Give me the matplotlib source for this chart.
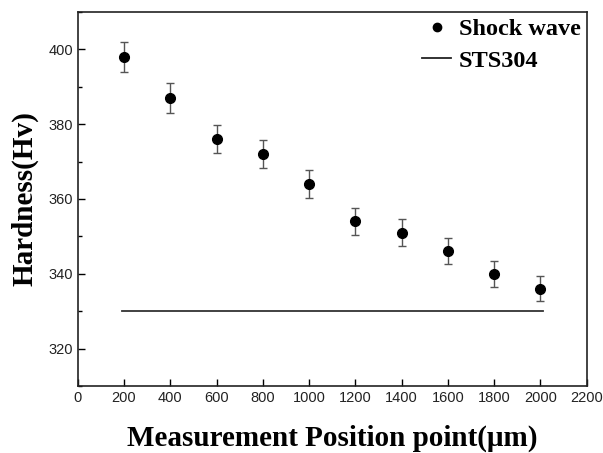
import matplotlib
matplotlib.use("Agg")
import matplotlib.pyplot as plt
from matplotlib.ticker import MultipleLocator
from matplotlib.lines import Line2D

positions = [200, 400, 600, 800, 1000, 1200, 1400, 1600, 1800, 2000]
hardness = [398, 387, 376, 372, 364, 354, 351, 346, 340, 336]
errors = [4.0, 3.9, 3.7, 3.7, 3.7, 3.6, 3.6, 3.5, 3.5, 3.4]
sts_x = [190, 2010]
sts_y = [330, 330]

fig = plt.figure(figsize=(6.03, 4.53), dpi=100)
ax = fig.add_axes([0.129, 0.148, 0.844, 0.8255])

ax.errorbar(positions, hardness, yerr=errors, fmt='o', color='black',
            ecolor='#555555', elinewidth=1.0, capsize=2.8, capthick=1.0,
            markersize=7)
ax.plot(sts_x, sts_y, color='#333333', linewidth=1.3)

ax.set_xlim(0, 2200)
ax.set_ylim(310, 410)
ax.xaxis.set_major_locator(MultipleLocator(200))
ax.yaxis.set_major_locator(MultipleLocator(20))
ax.yaxis.set_minor_locator(MultipleLocator(10))
ax.tick_params(axis='both', which='both', direction='in', top=False, right=False)
ax.tick_params(which='major', length=5, width=1)
ax.tick_params(which='minor', length=3, width=1)
for lab in ax.get_xticklabels() + ax.get_yticklabels():
    lab.set_fontfamily('Liberation Sans')
    lab.set_fontsize(10.5)
    lab.set_color('#222222')
for s in ax.spines.values():
    s.set_linewidth(1.2)
    s.set_color('#222222')

ax.set_xlabel('Measurement Position point(μm)', fontfamily='Liberation Serif',
              fontweight='bold', fontsize=21, labelpad=14)
ax.set_ylabel('Hardness(Hv)', fontfamily='Liberation Serif',
              fontweight='bold', fontsize=21, labelpad=7)

handles = [Line2D([], [], marker='o', linestyle='none', color='black', markersize=6),
           Line2D([], [], color='#222222', linewidth=1.3)]
leg = ax.legend(handles, ['Shock wave', 'STS304'], loc='upper right', frameon=False,
                handlelength=1.2, handletextpad=0.3, borderaxespad=0.05,
                borderpad=0.2, labelspacing=0.4,
                prop={'family': 'Liberation Serif', 'weight': 'bold', 'size': 17.5})

fig.savefig('out.png', dpi=100)
